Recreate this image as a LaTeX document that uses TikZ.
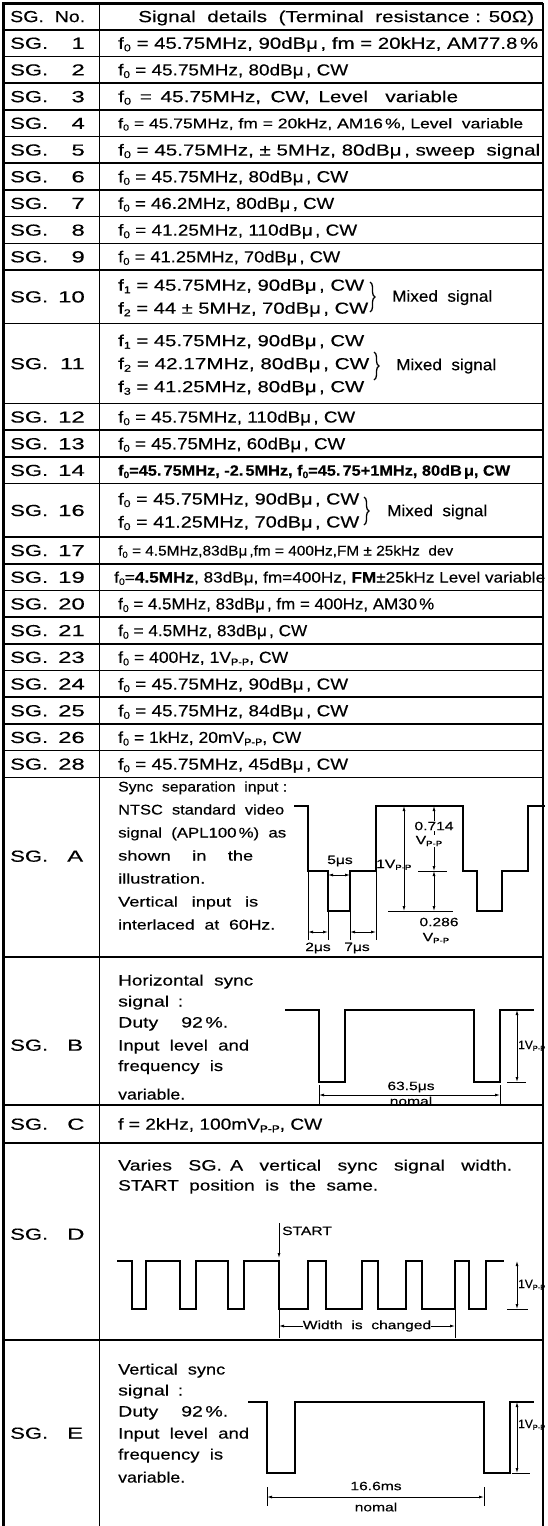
\documentclass[tikz,border=0pt]{standalone}
\usepackage{fontspec}
\setmainfont[FakeStretch=1.3,FakeBold=0.4]{Liberation Sans}
\usetikzlibrary{arrows.meta,decorations.pathreplacing}
\newcommand\lo[1]{\raisebox{-0.3ex}{\scalebox{0.62}{#1}}}
\newcommand\fo{f\lo{0}}
\newcommand\fsub[1]{f\lo{#1}}
\newcommand\vpp{V\lo{P-P}}
\newcommand\fitw[2]{\resizebox{#1pt}{\height}{#2}}
\newsavebox\fbx
\newcommand\fitx[2]{\sbox\fbx{#2}\ifdim\wd\fbx>#1pt\resizebox{#1pt}{\height}{\usebox\fbx}\else\makebox[#1pt][s]{#2}\fi}
\newcommand\fA{\fontsize{16}{18}\selectfont}
\newcommand\fB{\fontsize{14}{16}\selectfont}
\newcommand\fC{\fontsize{15}{17}\selectfont}
\newcommand\fE{\fontsize{14}{16}\selectfont}
\newcommand\fD{\fontsize{12}{14}\selectfont}
\tikzset{
  tx/.style={inner sep=0pt, font=\fA},
  txs/.style={inner sep=0pt, font=\fB},
  txd/.style={inner sep=0pt, font=\fC},
  txa/.style={inner sep=0pt, font=\fE},
  lab/.style={inner sep=0pt, font=\fA},
  dlab/.style={inner sep=0pt, font=\fD},
  grid/.style={line width=1.6pt},
  frame/.style={line width=3.5pt},
  wave/.style={line width=1.9pt, line join=miter, line cap=rect},
  dim/.style={line width=0.8pt},
  dimar/.style={line width=0.8pt, {Latex[length=5pt,width=3pt]}-{Latex[length=5pt,width=3pt]}},
  dimr/.style={line width=0.8pt, -{Latex[length=5pt,width=3pt]}},
  brc/.style={line width=1.3pt, decorate, decoration={brace, amplitude=5pt}},
}
\newcommand\sgr[4]{%
  \node[lab,anchor=base west] (s#1) at (10,#2+5.7) {\fitw{38}{SG.}};
  \node[lab,anchor=base east] (n#1) at (85,#2+5.7) {\scalebox{1.15}[1]{#3}};
  \node[tx,anchor=base west] (t#1) at (118,#2+5.7) {#4};
}
\newcommand\sgl[3]{%
  \node[lab,anchor=base west] (s#1) at (10,#2+5.7) {\fitw{38}{SG.}};
  \node[lab,anchor=base west] (n#1) at (67,#2+5.7) {\scalebox{1.15}[1]{#3}};
}
\begin{document}
\begin{tikzpicture}[x=1pt,y=-1pt]
\useasboundingbox (0,0) rectangle (547,1526);
% ---------- table grid ----------
\foreach \yy in {29.7,56.4,83.1,109.8,136.5,163.2,189.9,216.6,243.3,270,323.4,403.5,430.2,456.9,483.6,537,563.7,590.4,617.1,643.8,670.5,697.2,723.9,750.6,777.3,957,1105,1143,1340}
  \draw[grid] (3,\yy) -- (543,\yy);
\draw[frame] (3.5,2) -- (3.5,1526);
\draw[line width=2.4pt] (2,3.5) -- (543,3.5);
\draw[grid] (99.5,3) -- (99.5,1526);
\draw[grid] (543,3) -- (543,1526);
% ---------- header ----------
\node[lab,anchor=base west] (hno) at (10,22.1) {\fitw{75}{SG.\ \ No.}};
\node[tx,anchor=base west] (hsig) at (138,22.1) {\fitx{396}{Signal\ \ details\ \ (Terminal\ \ resistance : 50Ω)}};
% ---------- single rows ----------
\sgr{1}{43.05}{1}{\fitx{420}{\fo{} = 45.75MHz, 90dBμ\,, fm = 20kHz, AM77.8\,\%}}
\sgr{2}{69.75}{2}{\fitx{230}{\fo{} = 45.75MHz, 80dBμ\,, CW}}
\sgr{3}{96.45}{3}{\fitx{340}{\fo{} = 45.75MHz, CW, Level\ \ variable}}
\node[lab,anchor=base west] (s4) at (10,128.85) {\fitw{38}{SG.}};
\node[lab,anchor=base east] (n4) at (85,128.85) {\scalebox{1.15}[1]{4}};
\node[txs,anchor=base west] (t4) at (118,128.3) {\fitx{405}{\fo{} = 45.75MHz, fm = 20kHz, AM16\,\%, Level\ \ variable}};
\sgr{5}{149.85}{5}{\fitx{422}{\fo{} = 45.75MHz, ± 5MHz, 80dBμ\,, sweep\ \ signal}}
\sgr{6}{176.55}{6}{\fitx{230}{\fo{} = 45.75MHz, 80dBμ\,, CW}}
\sgr{7}{203.25}{7}{\fitx{216}{\fo{} = 46.2MHz, 80dBμ\,, CW}}
\sgr{8}{229.95}{8}{\fitx{239}{\fo{} = 41.25MHz, 110dBμ\,, CW}}
\sgr{9}{256.65}{9}{\fitx{222}{\fo{} = 41.25MHz, 70dBμ\,, CW}}
% SG 10
\node[lab,anchor=base west] (s10) at (10,302.4) {\fitw{38}{SG.}};
\node[lab,anchor=base east] (n10) at (85,302.4) {\scalebox{1.15}[1]{10}};
\node[tx,anchor=base west] (t10a) at (118,290.7) {\fitx{246}{\fsub{1} = 45.75MHz, 90dBμ\,, CW}};
\node[tx,anchor=base west] (t10b) at (118,313.7) {\fitx{250}{\fsub{2} = 44 ± 5MHz, 70dBμ\,, CW}};
\draw[brc] (370,282) -- (370,312);
\node[tx,anchor=base west] (m10) at (392,301.7) {\fitx{100}{Mixed\ \ signal}};
% SG 11
\node[lab,anchor=base west] (s11) at (10,369.2) {\fitw{38}{SG.}};
\node[lab,anchor=base east] (n11) at (85,369.2) {\scalebox{1.15}[1]{11}};
\node[tx,anchor=base west] (t11a) at (118,346.2) {\fitx{246}{\fsub{1} = 45.75MHz, 90dBμ\,, CW}};
\node[tx,anchor=base west] (t11b) at (118,369.2) {\fitx{251}{\fsub{2} = 42.17MHz, 80dBμ\,, CW}};
\node[tx,anchor=base west] (t11c) at (118,392.2) {\fitx{246}{\fsub{3} = 41.25MHz, 80dBμ\,, CW}};
\draw[brc] (374,352) -- (374,380);
\node[tx,anchor=base west] (m11) at (396,370.2) {\fitx{100}{Mixed\ \ signal}};
% SG 12-14
\sgr{12}{416.85}{12}{\fitx{237}{\fo{} = 45.75MHz, 110dBμ\,, CW}}
\sgr{13}{443.55}{13}{\fitx{227}{\fo{} = 45.75MHz, 60dBμ\,, CW}}
\node[lab,anchor=base west] (s14) at (10,475.95) {\fitw{38}{SG.}};
\node[lab,anchor=base east] (n14) at (85,475.95) {\scalebox{1.15}[1]{14}};
\node[txd,anchor=base west] (t14) at (118,475.7) {\bfseries\fitx{392}{\fo=45.\,75MHz, -2.\,5MHz, \fo=45.\,75+1MHz, 80dB\,μ, CW}};
% SG 16
\node[lab,anchor=base west] (s16) at (10,516) {\fitw{38}{SG.}};
\node[lab,anchor=base east] (n16) at (85,516) {\scalebox{1.15}[1]{16}};
\node[tx,anchor=base west] (t16a) at (118,504.5) {\fitx{241}{\fo{} = 45.75MHz, 90dBμ\,, CW}};
\node[tx,anchor=base west] (t16b) at (118,527.5) {\fitx{241}{\fo{} = 41.25MHz, 70dBμ\,, CW}};
\draw[brc] (364,497) -- (364,525);
\node[tx,anchor=base west] (m16) at (387,516.2) {\fitx{100}{Mixed\ \ signal}};
% SG 17-28
\node[lab,anchor=base west] (s17) at (10,556.05) {\fitw{38}{SG.}};
\node[lab,anchor=base east] (n17) at (85,556.05) {\scalebox{1.15}[1]{17}};
\node[txs,anchor=base west] (t17) at (118,555.5) {\fitx{335}{\fo{} = 4.5MHz,83dBμ\,,fm = 400Hz,FM ± 25kHz\ \ dev}};
\node[lab,anchor=base west] (s19) at (10,582.75) {\fitw{38}{SG.}};
\node[lab,anchor=base east] (n19) at (85,582.75) {\scalebox{1.15}[1]{19}};
\node[txd,anchor=base west] (t19) at (114,582.5) {\fitx{431}{\fo=\textbf{4.5MHz}, 83dBμ, fm=400Hz, \textbf{FM}±25kHz Level variable}};
\sgr{20}{603.75}{20}{\fitx{316}{\fo{} = 4.5MHz, 83dBμ\,, fm = 400Hz, AM30\,\%}}
\sgr{21}{630.45}{21}{\fitx{189}{\fo{} = 4.5MHz, 83dBμ\,, CW}}
\sgr{23}{657.15}{23}{\fitx{170}{\fo{} = 400Hz, 1\vpp, CW}}
\sgr{24}{683.85}{24}{\fitx{230}{\fo{} = 45.75MHz, 90dBμ\,, CW}}
\sgr{25}{710.55}{25}{\fitx{230}{\fo{} = 45.75MHz, 84dBμ\,, CW}}
\sgr{26}{737.25}{26}{\fitx{183}{\fo{} = 1kHz, 20m\vpp, CW}}
\sgr{28}{763.95}{28}{\fitx{230}{\fo{} = 45.75MHz, 45dBμ\,, CW}}
% ---------- SG. A ----------
\sgl{A}{856}{A}
\node[txa,anchor=base west] (a1) at (118,791.5) {\fitx{169}{Sync\ \ separation\ \ input :}};
\node[txa,anchor=base west] (a2) at (118,814.5) {\fitx{166}{NTSC\ \ standard\ \ video}};
\node[txa,anchor=base west] (a3) at (118,837.5) {\fitx{168}{signal\ \ (APL100\,\%)\ \ as}};
\node[txa,anchor=base west] (a4) at (118,860.5) {\fitx{135}{shown\ \ in\ \ the}};
\node[txa,anchor=base west] (a5) at (118,883.5) {illustration.};
\node[txa,anchor=base west] (a6) at (118,906.5) {\fitx{140}{Vertical\ \ input\ \ is}};
\node[txa,anchor=base west] (a7) at (118,929.5) {\fitx{157}{interlaced\ \ at\ \ 60Hz.}};
\draw[wave] (295,806) -- (308,806) -- (308,871) -- (328,871) -- (328,911) -- (350,911) -- (350,871) -- (376,871) -- (376,806) -- (463,806) -- (463,871) -- (477,871) -- (477,911) -- (502,911) -- (502,871) -- (528,871) -- (528,806) -- (544,806);
\coordinate (aF1) at (308,940); \coordinate (aF2) at (328,940);
\coordinate (aF3) at (350,940); \coordinate (aF4) at (376,940);
\draw[dim] (308,871) -- (aF1) (328,911) -- (aF2) (350,911) -- (aF3) (376,871) -- (aF4);
\coordinate (aS1) at (328,875); \coordinate (aS2) at (350,875);
\draw[dimar] (aS1) -- (aS2);
\node[dlab] (a5us) at (340,861) {5μs};
\coordinate (aD1) at (308,932); \coordinate (aD2) at (328,932);
\coordinate (aD3) at (350,932); \coordinate (aD4) at (376,932);
\draw[dimar] (aD1) -- (aD2);
\draw[dimar] (aD3) -- (aD4);
\node[dlab] (a2us) at (318,948) {2μs};
\node[dlab] (a7us) at (357,948) {7μs};
\coordinate (aV1) at (404,806); \coordinate (aV2) at (404,911);
\draw[dimar] (aV1) -- (aV2);
\node[dlab,anchor=base west] (a1v) at (376,868) {1\vpp};
\coordinate (aR1) at (388,911); \coordinate (aR2) at (453,911);
\draw[dim] (aR1) -- (aR2);
\coordinate (aB1) at (418,871); \coordinate (aB2) at (447,871);
\draw[dim] (aB1) -- (aB2);
\coordinate (aW1) at (434,806); \coordinate (aW2) at (434,871); \coordinate (aW3) at (434,911);
\draw[dimar] (aW1) -- (aW2);
\draw[dimar] (aW2) -- (aW3);
\node[dlab,fill=white,inner sep=0.5pt] (a714) at (434,826) {0.714};
\node[dlab,fill=white,inner sep=0.5pt] (a714v) at (429,841) {\vpp};
\node[dlab] (a286) at (439,922) {0.286};
\node[dlab] (a286v) at (436,938) {\vpp};
% ---------- SG. B ----------
\sgl{B}{1045}{B}
\node[txd,anchor=base west] (b1) at (118,985.5) {\fitx{135}{Horizontal\ \ sync}};
\node[txd,anchor=base west] (b2) at (118,1006.5) {\fitx{65}{signal :}};
\node[txd,anchor=base west] (b3) at (118,1027.5) {\fitx{110}{Duty\ \ 92\,\%.}};
\node[txd,anchor=base west] (b4) at (118,1050.5) {\fitx{131}{Input\ \ level\ \ and}};
\node[txd,anchor=base west] (b5) at (118,1071) {\fitx{105}{frequency\ \ is}};
\node[txd,anchor=base west] (b6) at (118,1099.5) {\fitx{67}{variable.}};
\draw[wave] (286,1010) -- (319,1010) -- (319,1082) -- (345,1082) -- (345,1010) -- (474,1010) -- (474,1082) -- (500,1082) -- (500,1010) -- (533,1010);
\coordinate (bV1) at (517,1010); \coordinate (bV2) at (517,1082);
\draw[dimar] (bV1) -- (bV2);
\draw[dim] (507,1082) -- (526,1082);
\node[dlab,anchor=base west] (b1v) at (518,1049) {\fitw{27}{1\vpp}};
\coordinate (bT1) at (319,1095); \coordinate (bT2) at (500,1095);
\draw[dim] (319,1085) -- (319,1105) (500,1085) -- (500,1105);
\draw[dimar] (bT1) -- (bT2);
\node[dlab] (b635) at (411,1087) {63.5μs};
\node[dlab] (bnom) at (411,1101) {nomal};
% ---------- SG. C ----------
\sgl{C}{1124}{C}
\node[tx,anchor=base west] (tC) at (118,1129.7) {\fitx{204}{f = 2kHz, 100m\vpp, CW}};
% ---------- SG. D ----------
\sgl{D}{1234}{D}
\node[txd,anchor=base west] (d1) at (118,1170.5) {\fitx{394}{Varies\ \ SG.\ A\ \ vertical\ \ sync\ \ signal\ \ width.}};
\node[txd,anchor=base west] (d2) at (118,1190.5) {\fitx{260}{START\ \ position\ \ is\ \ the\ \ same.}};
\draw[wave] (118,1261) -- (132,1261) -- (132,1309) -- (146,1309) -- (146,1261) -- (180,1261) -- (180,1309) -- (196,1309) -- (196,1261) -- (228,1261) -- (228,1309) -- (244,1309) -- (244,1261) -- (279,1261) -- (279,1309) -- (308,1309) -- (308,1261) -- (326,1261) -- (326,1309) -- (362,1309) -- (362,1261) -- (378,1261) -- (378,1309) -- (406,1309) -- (406,1261) -- (422,1261) -- (422,1309) -- (455,1309) -- (455,1261) -- (469,1261) -- (469,1309) -- (486,1309) -- (486,1261) -- (503,1261);
\coordinate (dS1) at (279,1223); \coordinate (dS2) at (279,1258);
\draw[dimr] (dS1) -- (dS2);
\node[dlab,anchor=base west] (dst) at (282,1235) {START};
\coordinate (dV1) at (517,1261); \coordinate (dV2) at (517,1309);
\draw[dimar] (dV1) -- (dV2);
\draw[dim] (507,1309) -- (528,1309);
\node[dlab,anchor=base west] (d1v) at (518,1288) {\fitw{27}{1\vpp}};
\draw[dim] (279,1309) -- (279,1338) (455,1309) -- (455,1338);
\node[dlab] (dwc) at (367,1326) {Width\ \ is\ \ changed};
\coordinate (dW1) at (279,1326); \coordinate (dW2) at (455,1326);
\draw[dimr] (dwc.west) -- (dW1);
\draw[dimr] (dwc.east) -- (dW2);
% ---------- SG. E ----------
\sgl{E}{1433}{E}
\node[txd,anchor=base west] (e1) at (118,1374.5) {\fitx{107}{Vertical\ \ sync}};
\node[txd,anchor=base west] (e2) at (118,1395.5) {\fitx{65}{signal :}};
\node[txd,anchor=base west] (e3) at (118,1416.5) {\fitx{110}{Duty\ \ 92\,\%.}};
\node[txd,anchor=base west] (e4) at (118,1438.5) {\fitx{131}{Input\ \ level\ \ and}};
\node[txd,anchor=base west] (e5) at (118,1459.5) {\fitx{105}{frequency\ \ is}};
\node[txd,anchor=base west] (e6) at (118,1482.5) {\fitx{67}{variable.}};
\draw[wave] (249,1402) -- (267,1402) -- (267,1473) -- (295,1473) -- (295,1402) -- (484,1402) -- (484,1473) -- (510,1473) -- (510,1402) -- (533,1402);
\coordinate (eV1) at (517,1402); \coordinate (eV2) at (517,1473);
\draw[dimar] (eV1) -- (eV2);
\draw[dim] (512,1473) -- (530,1473);
\node[dlab,anchor=base west] (e1v) at (518,1428) {\fitw{27}{1\vpp}};
\coordinate (eT1) at (267,1497); \coordinate (eT2) at (484,1497);
\draw[dim] (267,1487) -- (267,1506) (484,1487) -- (484,1506);
\draw[dimar] (eT1) -- (eT2);
\node[dlab] (e166) at (376,1486) {16.6ms};
\node[dlab] (enom) at (376,1507) {nomal};
\end{tikzpicture}
\end{document}
